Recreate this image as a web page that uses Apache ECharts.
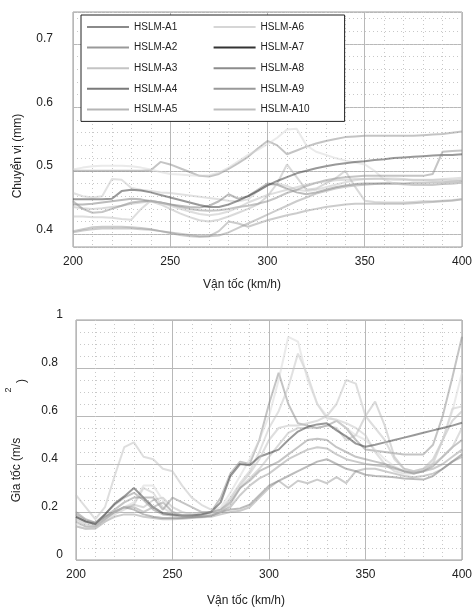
<!DOCTYPE html>
<html>
<head>
<meta charset="utf-8">
<script src="https://cdn.jsdelivr.net/npm/echarts@6.0.0/dist/echarts.min.js"></script>
<style>
  html, body { margin: 0; padding: 0; background: #fff; }
  #chart { width: 475px; height: 608px; }
</style>
</head>
<body>
<div id="chart"></div>
<script>
// tốc độ (km/h)
var speeds = [200, 205, 210, 215, 220, 225, 230, 235, 240, 245,
  250, 255, 260, 265, 270, 275, 280, 285, 290, 295,
  300, 305, 310, 315, 320, 325, 330, 335, 340, 345,
  350, 355, 360, 365, 370, 375, 380, 385, 390, 395, 400]

var names = ['HSLM-A1', 'HSLM-A2', 'HSLM-A3', 'HSLM-A4', 'HSLM-A5',
  'HSLM-A6', 'HSLM-A7', 'HSLM-A8', 'HSLM-A9', 'HSLM-A10']
var colors = ['#8a8a8a', '#999999', '#c4c4c4', '#7a7a7a', '#b5b5b5',
  '#d6d6d6', '#333333', '#8c8c8c', '#999999', '#bdbdbd']

// chuyển vị (mm)
var dispA1 = [.500, .500, .500, .500, .500, .500, .500, .500, .501, .514,
  .510, .504, .498, .492, .491, .495, .503, .512, .522, .535,
  .547, .540, .526, .532, .538, .543, .547, .550, .553, .554,
  .555, .555, .555, .555, .555, .555, .556, .557, .558, .560, .562]
var dispA2 = [.403, .406, .408, .409, .409, .409, .409, .408, .407, .405,
  .403, .401, .399, .397, .397, .398, .403, .410, .417, .424,
  .431, .438, .445, .452, .458, .464, .468, .472, .475, .477,
  .478, .479, .480, .480, .480, .481, .481, .482, .482, .483, .484]
var dispA3 = [.465, .460, .458, .460, .487, .486, .473, .470, .468, .466,
  .465, .463, .461, .459, .457, .455, .453, .452, .455, .468,
  .477, .480, .476, .470, .468, .470, .474, .478, .482, .485,
  .487, .488, .488, .488, .487, .486, .486, .486, .487, .488, .489]
var dispA4 = [.447, .447, .448, .450, .452, .454, .456, .455, .452, .450,
  .447, .445, .443, .442, .445, .452, .463, .456, .460, .470,
  .480, .478, .472, .466, .463, .466, .470, .474, .477, .479,
  .480, .480, .480, .480, .479, .478, .478, .478, .479, .480, .481]
var dispA5 = [.443, .441, .440, .441, .443, .445, .448, .450, .452, .447,
  .440, .433, .427, .422, .420, .423, .428, .434, .440, .447,
  .460, .480, .510, .490, .470, .472, .480, .488, .500, .475,
  .453, .451, .450, .450, .450, .451, .452, .452, .453, .454, .455]
var dispA6 = [.502, .505, .507, .508, .508, .508, .507, .505, .502, .498,
  .495, .494, .493, .492, .493, .497, .505, .515, .525, .533,
  .542, .552, .565, .566, .540, .530, .525, .520, .516, .513,
  .510, .500, .486, .480, .478, .478, .478, .479, .480, .480, .481]
var dispA7 = [.455, .455, .455, .455, .456, .468, .470, .469, .466, .462,
  .458, .454, .450, .446, .443, .443, .447, .453, .460, .468,
  .477, .484, .490, .496, .500, .504, .507, .510, .512, .514,
  .515, .517, .518, .520, .521, .522, .523, .524, .525, .525, .526]
var dispA8 = [.452, .440, .434, .435, .440, .445, .450, .452, .453, .450,
  .447, .443, .440, .438, .437, .438, .440, .443, .445, .448,
  .452, .458, .465, .470, .476, .481, .485, .488, .490, .491,
  .492, .492, .492, .492, .492, .492, .492, .495, .530, .531, .532]
var dispA9 = [.405, .408, .411, .412, .412, .412, .411, .410, .408, .405,
  .402, .399, .397, .396, .397, .405, .420, .417, .412, .417,
  .422, .426, .430, .433, .437, .440, .443, .445, .447, .448,
  .448, .448, .448, .448, .448, .449, .450, .451, .452, .453, .455]
var dispA10 = [.428, .428, .427, .427, .426, .424, .423, .440, .453, .450,
  .445, .440, .436, .432, .430, .432, .436, .442, .450, .456,
  .462, .466, .470, .474, .478, .481, .483, .485, .486, .487,
  .487, .487, .487, .486, .486, .485, .485, .485, .485, .485, .486]

// gia tốc (m/s2)
var accA1 = [.19, .165, .155, .19, .23, .26, .28, .25, .21, .19,
  .185, .18, .18, .185, .20, .26, .36, .41, .40, .50,
  .65, .78, .65, .57, .56, .55, .56, .58, .55, .50,
  .46, .455, .45, .445, .44, .44, .44, .48, .60, .76, .93]
var accA2 = [.14, .13, .13, .16, .18, .19, .19, .18, .175, .17,
  .17, .172, .175, .178, .18, .19, .20, .205, .22, .26,
  .30, .33, .30, .33, .32, .335, .32, .345, .32, .37,
  .38, .38, .37, .36, .35, .345, .35, .36, .38, .41, .43]
var accA3 = [.14, .13, .135, .16, .19, .21, .23, .30, .28, .22,
  .19, .185, .19, .195, .20, .21, .26, .32, .37, .45,
  .55, .62, .72, .86, .77, .65, .59, .585, .57, .55,
  .52, .45, .40, .37, .36, .36, .37, .40, .50, .63, .64]
var accA4 = [.18, .16, .15, .18, .20, .22, .21, .19, .18, .175,
  .175, .175, .178, .18, .185, .20, .21, .215, .23, .27,
  .31, .33, .35, .37, .39, .41, .42, .40, .38, .37,
  .355, .35, .348, .345, .34, .337, .335, .35, .38, .41, .44]
var accA5 = [.17, .15, .145, .17, .20, .22, .23, .22, .25, .26,
  .22, .20, .19, .19, .195, .20, .23, .30, .34, .38,
  .43, .48, .53, .55, .55, .55, .56, .55, .50, .52,
  .60, .66, .56, .43, .38, .37, .38, .42, .50, .58, .62]
var accA6 = [.15, .14, .14, .17, .20, .22, .24, .31, .31, .25,
  .20, .19, .185, .19, .20, .22, .28, .35, .42, .50,
  .60, .75, .93, .91, .75, .65, .60, .58, .55, .52,
  .50, .46, .42, .39, .37, .36, .37, .41, .50, .62, .78]
var accA7 = [.18, .16, .15, .19, .235, .265, .30, .26, .22, .195,
  .19, .185, .185, .19, .20, .24, .35, .40, .395, .43,
  .445, .46, .50, .535, .555, .565, .57, .54, .515, .485,
  .472, .48, .49, .50, .51, .52, .53, .54, .55, .56, .572]
var accA8 = [.20, .17, .155, .18, .21, .24, .26, .26, .26, .21,
  .26, .24, .22, .20, .20, .21, .24, .30, .33, .37,
  .39, .41, .44, .47, .50, .505, .50, .47, .45, .43,
  .42, .41, .40, .385, .37, .36, .37, .39, .43, .47, .50]
var accA9 = [.16, .14, .14, .17, .20, .22, .22, .20, .22, .24,
  .20, .185, .18, .18, .185, .20, .22, .27, .31, .34,
  .36, .39, .42, .44, .46, .47, .465, .44, .42, .41,
  .40, .395, .39, .38, .37, .365, .37, .38, .40, .43, .46]
var accA10 = [.27, .22, .17, .22, .35, .47, .49, .43, .42, .38,
  .37, .31, .26, .23, .21, .20, .25, .31, .36, .42,
  .50, .55, .56, .56, .57, .58, .60, .65, .75, .735,
  .60, .55, .50, .42, .38, .37, .38, .40, .43, .47, .55]

var dispData = [dispA1, dispA2, dispA3, dispA4, dispA5, dispA6, dispA7, dispA8, dispA9, dispA10]
var accData = [accA1, accA2, accA3, accA4, accA5, accA6, accA7, accA8, accA9, accA10]

var font = '"Liberation Sans", Arial, Helvetica, sans-serif'

function pairs(arr) {
  return speeds.map(function (v, i) { return [v, arr[i]] })
}

function makeSeries(list, xi, yi) {
  return list.map(function (arr, i) {
    return {
      name: names[i],
      type: 'line',
      xAxisIndex: xi,
      yAxisIndex: yi,
      data: pairs(arr),
      symbol: 'none',
      showSymbol: false,
      silent: true,
      color: colors[i],
      lineStyle: { width: 2, opacity: 0.5 }
    }
  })
}

function speedAxis(gridIndex) {
  return {
    gridIndex: gridIndex,
    type: 'value',
    min: 200,
    max: 400,
    interval: 50,
    axisLine: { show: false },
    axisTick: { show: false },
    minorTick: { show: false, splitNumber: 5 },
    axisLabel: { fontSize: 12, color: '#222', margin: 9, fontFamily: font },
    splitLine: { lineStyle: { color: '#b8b8b8', width: 1 } },
    minorSplitLine: { show: true, lineStyle: { color: '#c8c8c8', width: 1, type: [1, 3] } }
  }
}

var chart = echarts.init(document.getElementById('chart'))

var options = {
  animation: false,
  backgroundColor: '#fff',
  grid: [
    { left: 73, top: 12, width: 391, height: 235, show: true, borderColor: '#9a9a9a', borderWidth: 1 },
    { left: 76, top: 320, width: 396, height: 240, show: true, borderColor: '#9a9a9a', borderWidth: 1 }
  ],
  xAxis: [speedAxis(0), speedAxis(1)],
  yAxis: [
    {
      gridIndex: 0,
      type: 'value',
      min: 0.38,
      max: 0.75,
      splitNumber: 4,
      axisLine: { show: false },
      axisTick: { show: false },
      axisLabel: {
        fontSize: 12, color: '#222', margin: 20, fontFamily: font,
        verticalAlign: 'bottom', lineHeight: 10,
        formatter: function (v) {
          var r = Math.round(v * 10)
          return Math.abs(v * 10 - r) < 1e-6 ? (r / 10).toFixed(1) : ''
        }
      },
      splitLine: { lineStyle: { color: '#b8b8b8', width: 1 } }
    },
    {
      // lưới phụ của đồ thị trên
      gridIndex: 0,
      type: 'value',
      position: 'left',
      min: 0.38,
      max: 0.75,
      interval: 0.02,
      axisLine: { show: false },
      axisTick: { show: false },
      axisLabel: { show: false },
      splitLine: { lineStyle: { color: '#c8c8c8', width: 1, type: [1, 3] } }
    },
    {
      gridIndex: 1,
      type: 'value',
      min: 0,
      max: 1,
      interval: 0.2,
      axisLine: { show: false },
      axisTick: { show: false },
      minorTick: { show: false, splitNumber: 4 },
      axisLabel: {
        fontSize: 12, color: '#222', margin: 13, fontFamily: font,
        verticalAlign: 'bottom', lineHeight: 10,
        formatter: function (v) {
          return v === 0 || v === 1 ? '{i|' + v + '}' : '{d|' + v + '}'
        },
        rich: {
          i: { fontSize: 12, color: '#222', fontFamily: font, lineHeight: 10 },
          d: { fontSize: 12, color: '#222', fontFamily: font, lineHeight: 10, padding: [0, 5, 0, 0] }
        }
      },
      splitLine: { lineStyle: { color: '#b8b8b8', width: 1 } },
      minorSplitLine: { show: true, lineStyle: { color: '#c8c8c8', width: 1, type: [1, 3] } }
    }
  ],
  legend: {
    data: names,
    orient: 'vertical',
    left: 81,
    top: 15,
    height: 98,
    padding: [5, 12, 5, 5],
    itemWidth: 42,
    itemHeight: 14,
    itemGap: 6.6,
    backgroundColor: '#fff',
    borderColor: '#222',
    borderWidth: 1,
    borderRadius: 0,
    selectedMode: false,
    itemStyle: { opacity: 0, borderWidth: 0 },
    lineStyle: { width: 2, opacity: 1 },
    textStyle: { fontSize: 10, color: '#222', fontFamily: font, width: 72, lineHeight: 10, padding: [0, 0, 4, 0] }
  },
  graphic: [
    { type: 'text', x: 242, y: 285, style: { text: 'Vận tốc (km/h)', font: '12px ' + font, fill: '#222', align: 'center', verticalAlign: 'middle' } },
    { type: 'text', x: 246, y: 601, style: { text: 'Vận tốc (km/h)', font: '12px ' + font, fill: '#222', align: 'center', verticalAlign: 'middle' } },
    { type: 'text', x: 18, y: 156, rotation: Math.PI / 2, style: { text: 'Chuyển vị (mm)', font: '12px ' + font, fill: '#222', align: 'center', verticalAlign: 'middle' } },
    { type: 'text', x: 17, y: 470, rotation: Math.PI / 2, style: { text: 'Gia tốc (m/s', font: '12px ' + font, fill: '#222', align: 'center', verticalAlign: 'middle' } },
    { type: 'text', x: 9, y: 390, rotation: Math.PI / 2, style: { text: '2', font: '9px ' + font, fill: '#222', align: 'center', verticalAlign: 'middle' } },
    { type: 'text', x: 22, y: 381, rotation: Math.PI / 2, style: { text: ')', font: '12px ' + font, fill: '#222', align: 'center', verticalAlign: 'middle' } }
  ],
  series: makeSeries(dispData, 0, 0).concat(makeSeries(accData, 1, 2))
}

chart.setOption(options)
</script>
</body>
</html>
